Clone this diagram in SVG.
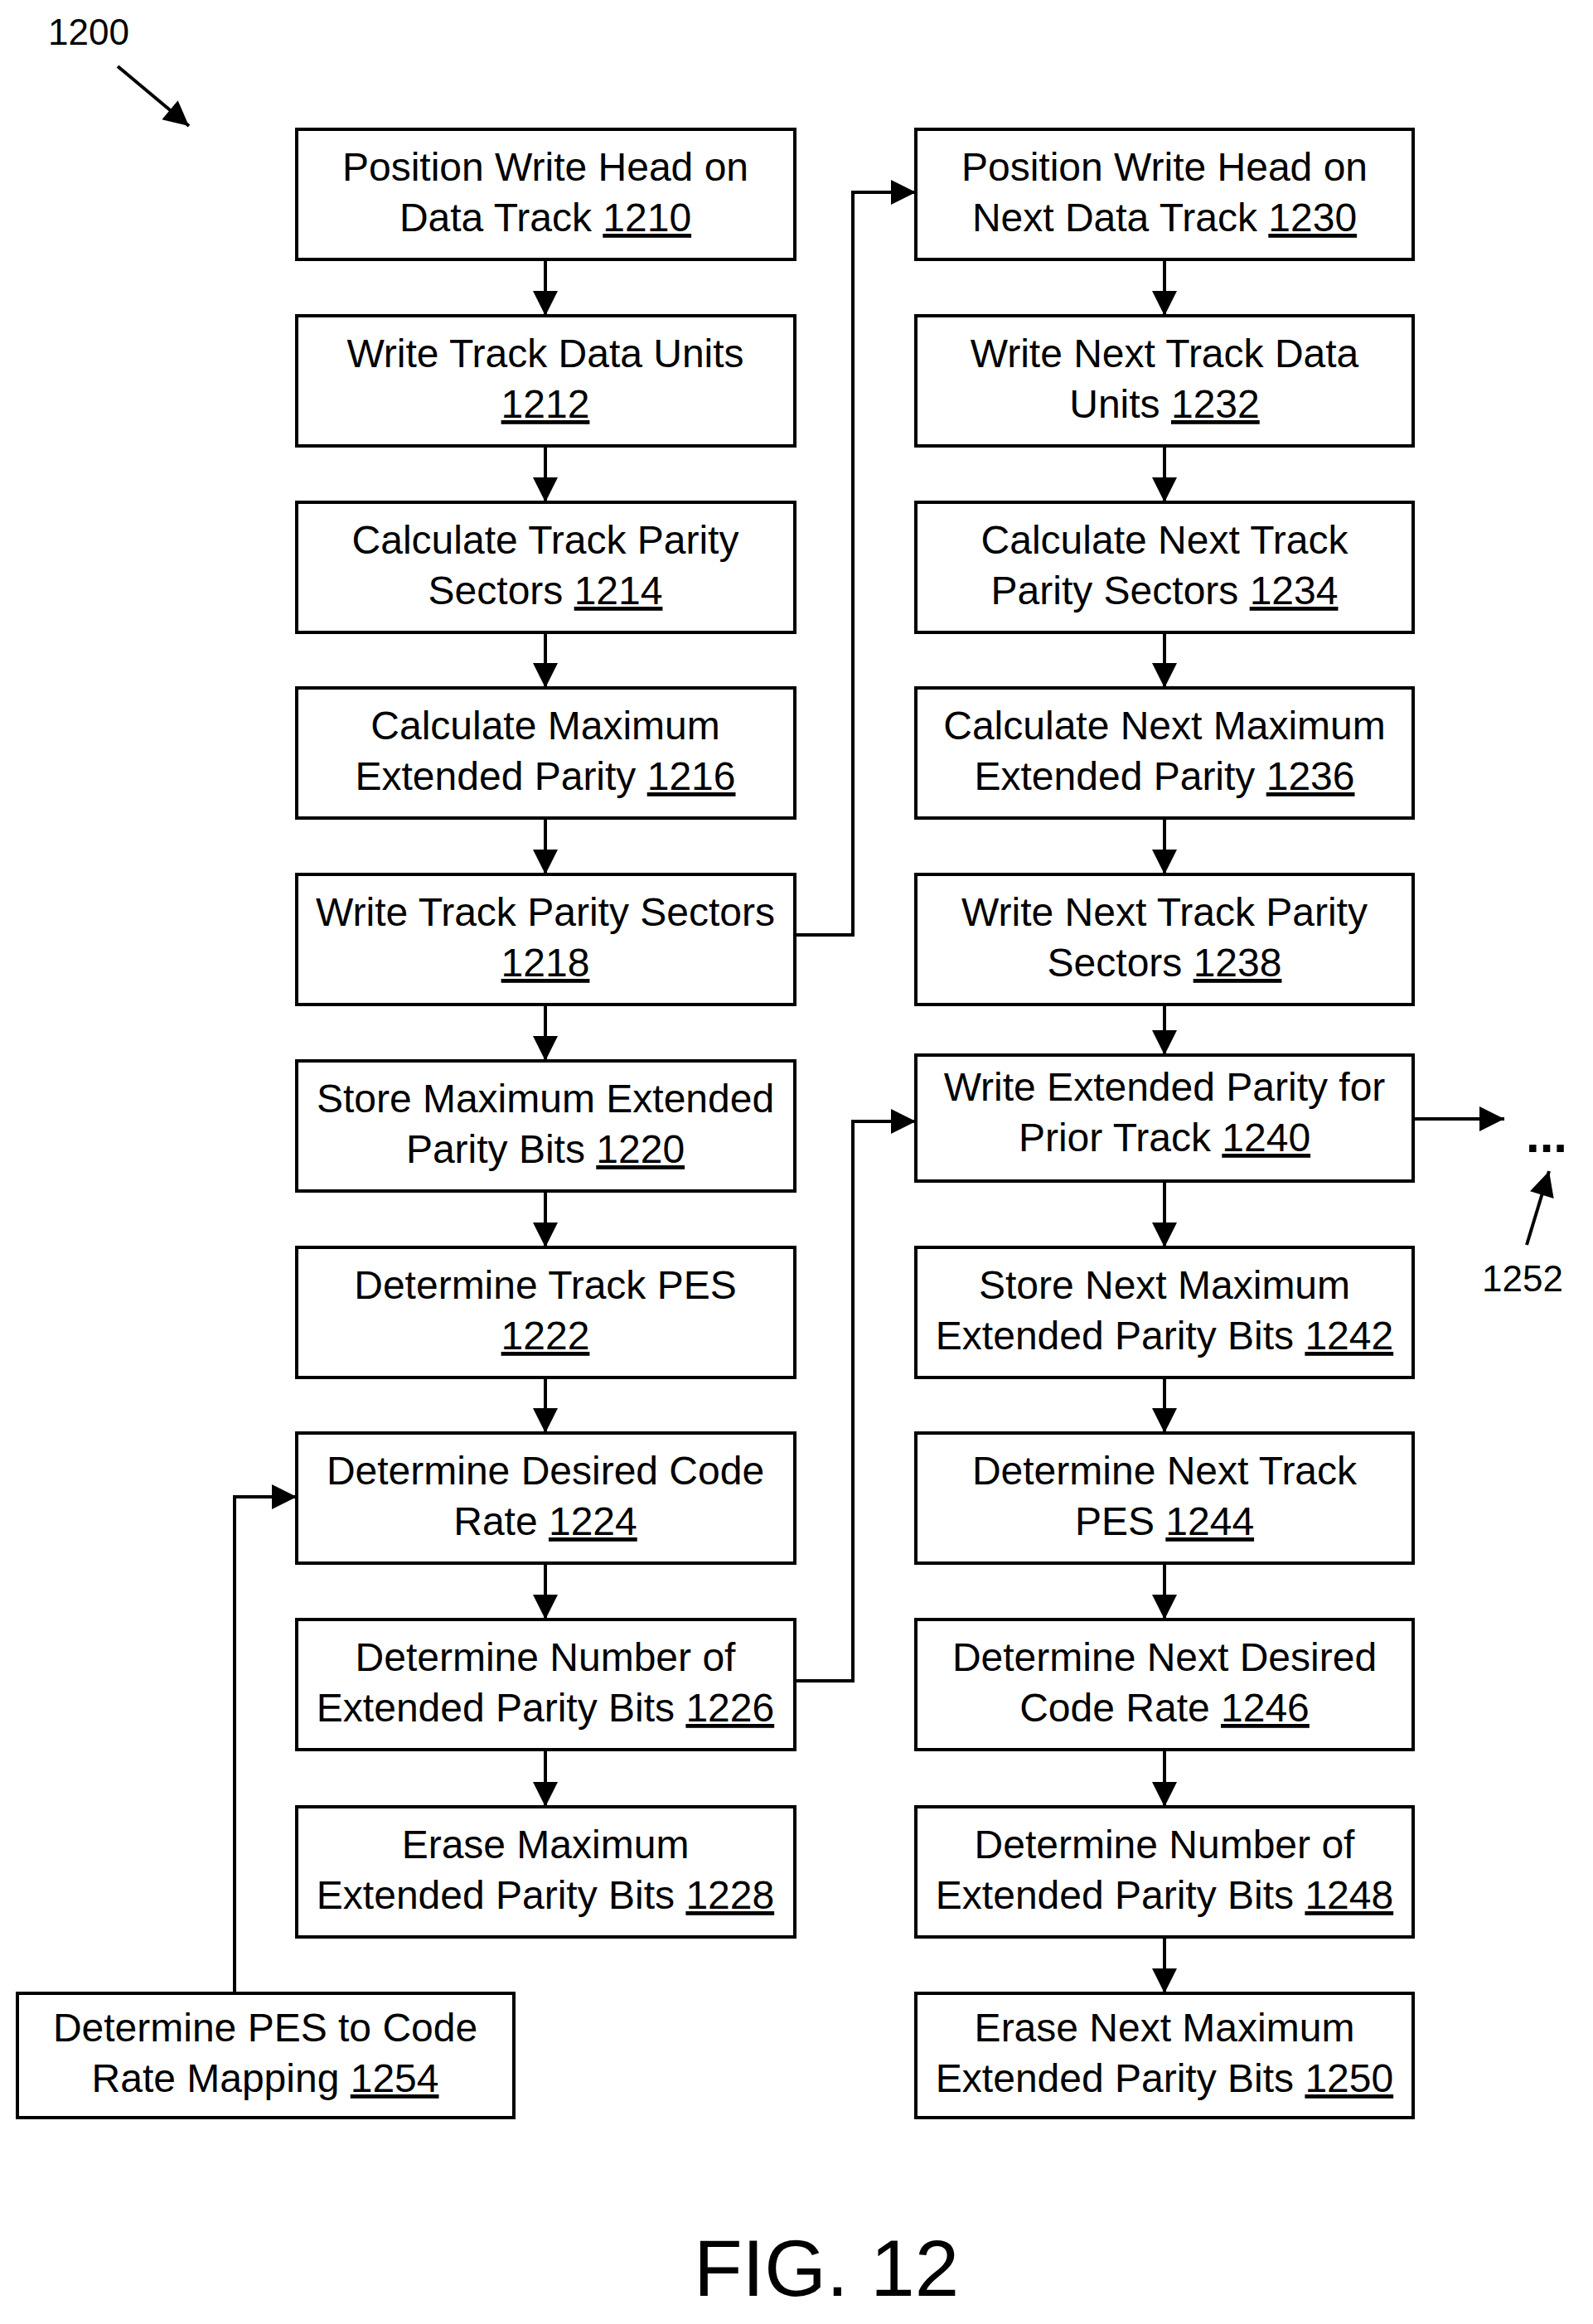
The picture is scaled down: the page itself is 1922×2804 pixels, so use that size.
<svg xmlns="http://www.w3.org/2000/svg" width="1922" height="2804" viewBox="0 0 1922 2804">
<style>
.b{fill:#fff;stroke:#000;stroke-width:4}
text{font-family:"Liberation Sans",Arial,sans-serif;font-size:48px;text-anchor:middle;fill:#000}
.u{text-decoration:underline}
.c{fill:none;stroke:#000;stroke-width:4}
</style>
<defs>
<marker id="m" viewBox="0 0 10 10" refX="10" refY="5" markerWidth="34" markerHeight="30" orient="auto" markerUnits="userSpaceOnUse"><path d="M0,0 L10,5 L0,10z"/></marker></defs>
<text x="107" y="54" style="font-size:44px">1200</text>
<text x="1837" y="1558" style="font-size:44px">1252</text>
<text x="1866" y="1390" style="font-size:60px;font-weight:bold">...</text>
<text x="997" y="2770" style="font-size:96px">FIG. 12</text>
<g id="n1210"><rect class="b" x="358" y="156" width="601" height="157"/><text x="658" y="218">Position Write Head on</text><text x="658" y="279">Data Track <tspan class="u">1210</tspan></text></g>
<g id="n1212"><rect class="b" x="358" y="381" width="601" height="157"/><text x="658" y="443">Write Track Data Units</text><text x="658" y="504"><tspan class="u">1212</tspan></text></g>
<g id="n1214"><rect class="b" x="358" y="606" width="601" height="157"/><text x="658" y="668">Calculate Track Parity</text><text x="658" y="729">Sectors <tspan class="u">1214</tspan></text></g>
<g id="n1216"><rect class="b" x="358" y="830" width="601" height="157"/><text x="658" y="892">Calculate Maximum</text><text x="658" y="953">Extended Parity <tspan class="u">1216</tspan></text></g>
<g id="n1218"><rect class="b" x="358" y="1055" width="601" height="157"/><text x="658" y="1117">Write Track Parity Sectors</text><text x="658" y="1178"><tspan class="u">1218</tspan></text></g>
<g id="n1220"><rect class="b" x="358" y="1280" width="601" height="157"/><text x="658" y="1342">Store Maximum Extended</text><text x="658" y="1403">Parity Bits <tspan class="u">1220</tspan></text></g>
<g id="n1222"><rect class="b" x="358" y="1505" width="601" height="157"/><text x="658" y="1567">Determine Track PES</text><text x="658" y="1628"><tspan class="u">1222</tspan></text></g>
<g id="n1224"><rect class="b" x="358" y="1729" width="601" height="157"/><text x="658" y="1791">Determine Desired Code</text><text x="658" y="1852">Rate <tspan class="u">1224</tspan></text></g>
<g id="n1226"><rect class="b" x="358" y="1954" width="601" height="157"/><text x="658" y="2016">Determine Number of</text><text x="658" y="2077">Extended Parity Bits <tspan class="u">1226</tspan></text></g>
<g id="n1228"><rect class="b" x="358" y="2180" width="601" height="157"/><text x="658" y="2242">Erase Maximum</text><text x="658" y="2303">Extended Parity Bits <tspan class="u">1228</tspan></text></g>
<g id="n1254"><rect class="b" x="21" y="2405" width="599" height="150"/><text x="320" y="2463">Determine PES to Code</text><text x="320" y="2524">Rate Mapping <tspan class="u">1254</tspan></text></g>
<g id="n1230"><rect class="b" x="1105" y="156" width="600" height="157"/><text x="1405" y="218">Position Write Head on</text><text x="1405" y="279">Next Data Track <tspan class="u">1230</tspan></text></g>
<g id="n1232"><rect class="b" x="1105" y="381" width="600" height="157"/><text x="1405" y="443">Write Next Track Data</text><text x="1405" y="504">Units <tspan class="u">1232</tspan></text></g>
<g id="n1234"><rect class="b" x="1105" y="606" width="600" height="157"/><text x="1405" y="668">Calculate Next Track</text><text x="1405" y="729">Parity Sectors <tspan class="u">1234</tspan></text></g>
<g id="n1236"><rect class="b" x="1105" y="830" width="600" height="157"/><text x="1405" y="892">Calculate Next Maximum</text><text x="1405" y="953">Extended Parity <tspan class="u">1236</tspan></text></g>
<g id="n1238"><rect class="b" x="1105" y="1055" width="600" height="157"/><text x="1405" y="1117">Write Next Track Parity</text><text x="1405" y="1178">Sectors <tspan class="u">1238</tspan></text></g>
<g id="n1240"><rect class="b" x="1105" y="1273" width="600" height="152"/><text x="1405" y="1328">Write Extended Parity for</text><text x="1405" y="1389">Prior Track <tspan class="u">1240</tspan></text></g>
<g id="n1242"><rect class="b" x="1105" y="1505" width="600" height="157"/><text x="1405" y="1567">Store Next Maximum</text><text x="1405" y="1628">Extended Parity Bits <tspan class="u">1242</tspan></text></g>
<g id="n1244"><rect class="b" x="1105" y="1729" width="600" height="157"/><text x="1405" y="1791">Determine Next Track</text><text x="1405" y="1852">PES <tspan class="u">1244</tspan></text></g>
<g id="n1246"><rect class="b" x="1105" y="1954" width="600" height="157"/><text x="1405" y="2016">Determine Next Desired</text><text x="1405" y="2077">Code Rate <tspan class="u">1246</tspan></text></g>
<g id="n1248"><rect class="b" x="1105" y="2180" width="600" height="157"/><text x="1405" y="2242">Determine Number of</text><text x="1405" y="2303">Extended Parity Bits <tspan class="u">1248</tspan></text></g>
<g id="n1250"><rect class="b" x="1105" y="2405" width="600" height="150"/><text x="1405" y="2463">Erase Next Maximum</text><text x="1405" y="2524">Extended Parity Bits <tspan class="u">1250</tspan></text></g>
<g id="connectors">
<path class="c" marker-end="url(#m)" d="M658,313V381"/>
<path class="c" marker-end="url(#m)" d="M658,538V606"/>
<path class="c" marker-end="url(#m)" d="M658,763V830"/>
<path class="c" marker-end="url(#m)" d="M658,987V1055"/>
<path class="c" marker-end="url(#m)" d="M658,1212V1280"/>
<path class="c" marker-end="url(#m)" d="M658,1437V1505"/>
<path class="c" marker-end="url(#m)" d="M658,1662V1729"/>
<path class="c" marker-end="url(#m)" d="M658,1886V1954"/>
<path class="c" marker-end="url(#m)" d="M658,2111V2180"/>
<path class="c" marker-end="url(#m)" d="M1405,313V381"/>
<path class="c" marker-end="url(#m)" d="M1405,538V606"/>
<path class="c" marker-end="url(#m)" d="M1405,763V830"/>
<path class="c" marker-end="url(#m)" d="M1405,987V1055"/>
<path class="c" marker-end="url(#m)" d="M1405,1212V1273"/>
<path class="c" marker-end="url(#m)" d="M1405,1425V1505"/>
<path class="c" marker-end="url(#m)" d="M1405,1662V1729"/>
<path class="c" marker-end="url(#m)" d="M1405,1886V1954"/>
<path class="c" marker-end="url(#m)" d="M1405,2111V2180"/>
<path class="c" marker-end="url(#m)" d="M1405,2337V2405"/>
<path class="c" marker-end="url(#m)" d="M959,1128H1029V232H1105"/>
<path class="c" marker-end="url(#m)" d="M959,2028H1029V1353H1105"/>
<path class="c" marker-end="url(#m)" d="M283,2405V1806H358"/>
<path class="c" marker-end="url(#m)" d="M1705,1350H1815"/>
<path class="c" marker-end="url(#m)" d="M142,80L228,152"/>
<path class="c" marker-end="url(#m)" d="M1842,1502L1869,1413"/>
</g>
</svg>
